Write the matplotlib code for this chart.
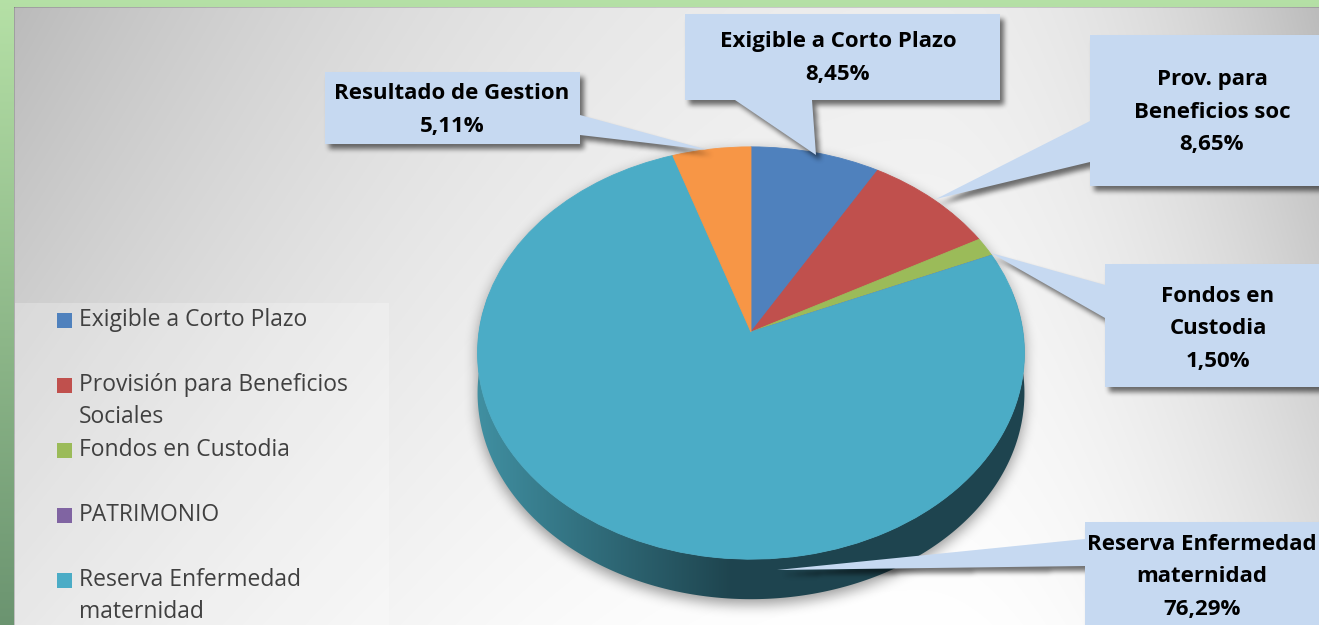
import numpy as np
import matplotlib
matplotlib.use("Agg")
import matplotlib.pyplot as plt
import matplotlib.transforms as mtransforms
from matplotlib.patches import Polygon, Rectangle
from matplotlib.path import Path

# data
categories = ["Exigible a Corto Plazo", "Provisión para Beneficios Sociales",
              "Fondos en Custodia", "PATRIMONIO",
              "Reserva Enfermedad maternidad", "Resultado de Gestion"]
legend_labels = ["Exigible a Corto Plazo", "Provisión para Beneficios\nSociales",
                 "Fondos en Custodia", "PATRIMONIO", "Reserva Enfermedad\nmaternidad"]
callout_names = ["Exigible a Corto Plazo", "Prov. para\nBeneficios soc",
                 "Fondos en\nCustodia", None, "Reserva Enfermedad\nmaternidad",
                 "Resultado de Gestion"]
shares = [8.45, 8.65, 1.50, 0.0, 76.29, 5.11]
colors = ["#4f81bd", "#c0504d", "#9bbb59", "#8064a2", "#4bacc6", "#f79646"]

W, H = 1319, 625
plt.rcParams['font.family'] = ['Open Sans', 'DejaVu Sans']
label_size = 16
legend_size = 16.5

# pie geometry (pixels): centre, half axes and perspective factor
cx, cy, rx, ry, persp = 751, 332, 272, 204, 0.102
depth = 40


def tilt_xy(u, v):
    d = 1 + persp * v
    return cx + rx * u / d, cy - ry * v / d


class Tilt(mtransforms.Transform):
    input_dims = output_dims = 2
    is_separable = False

    def transform_non_affine(self, values):
        values = np.asarray(values, float)
        x, y = tilt_xy(values[:, 0], values[:, 1])
        return np.column_stack([x, y])


# callout layout: box (x0, y0, x1, y1), pointer base points, tip, text centre
callout_layout = {
    0: dict(box=(685, 14, 1000, 100), base=[(735, 100), (812, 100)], tip=(816, 155), text=(838, 58)),
    1: dict(box=(1090, 35, 1340, 186), base=[(1090, 121), (1090, 162)], tip=(936, 199), text=(1212, 112)),
    2: dict(box=(1105, 264, 1340, 387), base=[(1105, 285), (1105, 318)], tip=(991, 253), text=(1218, 329)),
    4: dict(box=(1085, 522, 1340, 660), base=[(1085, 539), (1085, 566)], tip=(777, 570), text=(1202, 577)),
    5: dict(box=(325, 72, 580, 144), base=[(580, 115), (580, 135)], tip=(708, 150), text=(452, 110)),
}


def shift(a, dy, dx):
    out = np.zeros_like(a)
    out[dy:, dx:] = a[:a.shape[0] - dy, :a.shape[1] - dx]
    return out


def box_blur(a, r, passes=3):
    for _ in range(passes):
        for axis in (0, 1):
            k = 2 * r + 1
            pad = [(0, 0), (0, 0)]
            pad[axis] = (r + 1, r)
            c = np.cumsum(np.pad(a, pad, mode='edge'), axis=axis)
            if axis == 0:
                a = (c[k:] - c[:-k]) / k
            else:
                a = (c[:, k:] - c[:, :-k]) / k
    return a


def main():
    fig = plt.figure(figsize=(W / 100, H / 100), dpi=100)
    ax = fig.add_axes([0, 0, 1, 1])

    # background
    yy, xx = np.mgrid[0:H, 0:W] + 0.5
    sx = np.where(xx < 920, 900.0, 400.0)
    fx = np.clip(((xx - 920) / sx) ** 2, 0, 1.2)
    fy = 1 - yy / H
    g = 255 - 50 * fx * (0.6 + 0.4 * fy) - 18 * fy
    bg = np.dstack([g, g, g]) / 255.0
    green_top = np.array([0.71, 0.88, 0.65])
    green_bot = np.array([0.42, 0.58, 0.44])
    tcol = (yy / H)[..., None]
    green = green_top * (1 - tcol) + green_bot * tcol
    outer = (xx < 14) | (yy < 7)
    bg[outer] = green[outer]
    bg[(yy >= 7) & (yy < 8.5) & (xx >= 14)] *= 0.85
    bg[(xx >= 14) & (xx < 15) & (yy >= 7)] *= 0.85
    ax.imshow(bg, extent=[0, W, H, 0], origin='upper', aspect='auto', zorder=0)

    # legend panel
    ax.add_patch(Rectangle((15, 303), 374, 330, facecolor='white', alpha=0.25,
                           edgecolor='none', zorder=1))

    # pie top, from the library
    wedges, _ = ax.pie(shares, colors=colors, startangle=90, counterclock=False,
                       radius=1, center=(0, 0), wedgeprops=dict(linewidth=0.6))
    tilt = Tilt()
    for w, c in zip(wedges, colors):
        w.set_transform(tilt + ax.transData)
        w.set_edgecolor(c)
        w.set_zorder(4)

    # pie side (front half only)
    t = np.linspace(np.pi - 0.2, 2 * np.pi + 0.2, 300)
    sx_, sy_ = tilt_xy(np.cos(t), np.sin(t))
    side_pts = np.vstack([np.column_stack([sx_, sy_]),
                          np.column_stack([sx_[::-1], sy_[::-1] + depth])])
    side = Polygon(side_pts, closed=True, facecolor='none', edgecolor='none')
    ax.add_patch(side)
    xs = np.arange(W) + 0.5
    mix = np.clip((xs - 480) / 250, 0, 1)[None, :, None]
    light = np.array([0.25, 0.56, 0.63])
    dark = np.array([0.12, 0.27, 0.31])
    side_img = light * (1 - mix) + dark * mix
    im = ax.imshow(side_img, extent=[0, W, H, 0], origin='upper', aspect='auto', zorder=3)
    im.set_clip_path(side)

    # shadows
    pts = np.column_stack([xx.ravel(), yy.ravel()])
    tt = np.linspace(0, 2 * np.pi, 400)
    ex, ey = tilt_xy(np.cos(tt), np.sin(tt))
    pie_mask = (Path(np.column_stack([ex, ey])).contains_points(pts) |
                Path(side_pts).contains_points(pts)).reshape(H, W).astype(float)
    pie_sh = box_blur(shift(pie_mask, 5, 0), 6)
    sh = np.zeros((H, W, 4))
    sh[..., 3] = 0.4 * pie_sh
    ax.imshow(sh, extent=[0, W, H, 0], origin='upper', aspect='auto', zorder=2)

    box_mask = np.zeros(H * W, bool)
    for i, lay in callout_layout.items():
        x0, y0, x1, y1 = lay['box']
        box_mask |= (pts[:, 0] >= x0) & (pts[:, 0] <= x1) & (pts[:, 1] >= y0) & (pts[:, 1] <= y1)
        box_mask |= Path([lay['base'][0], lay['base'][1], lay['tip']]).contains_points(pts)
    box_mask = box_mask.reshape(H, W).astype(float)
    box_sh = box_blur(shift(box_mask, 5, 4), 2)
    sh2 = np.zeros((H, W, 4))
    sh2[..., 3] = 0.55 * box_sh
    ax.imshow(sh2, extent=[0, W, H, 0], origin='upper', aspect='auto', zorder=5)

    # callouts
    box_color = "#c6d9f1"
    for i, lay in callout_layout.items():
        x0, y0, x1, y1 = lay['box']
        ax.add_patch(Rectangle((x0, y0), x1 - x0, y1 - y0, facecolor=box_color,
                               edgecolor='none', zorder=6))
        ax.add_patch(Polygon([lay['base'][0], lay['base'][1], lay['tip']], closed=True,
                             facecolor=box_color, edgecolor='none', zorder=6))
        lines = callout_names[i].split("\n") + [f"{shares[i]:.2f}".replace(".", ",") + "%"]
        tx, ty = lay['text']
        for j, line in enumerate(lines):
            ax.text(tx, ty + (j - (len(lines) - 1) / 2) * 32.5, line, ha='center',
                    va='center', fontsize=label_size, fontweight='bold', color='black', zorder=7)

    # legend
    for i, lab in enumerate(legend_labels):
        y = 320 + 65 * i
        ax.add_patch(Rectangle((57, y - 7.5), 15, 15, facecolor=colors[i],
                               edgecolor='none', zorder=6))
        for j, line in enumerate(lab.split("\n")):
            ax.text(79, y + 32 * j, line, ha='left', va='center', fontsize=legend_size,
                    color='#404040', zorder=7)

    ax.set_aspect('auto')
    ax.set_xlim(0, W)
    ax.set_ylim(H, 0)
    ax.axis('off')
    fig.savefig("out.png", dpi=100)


if __name__ == "__main__":
    main()
